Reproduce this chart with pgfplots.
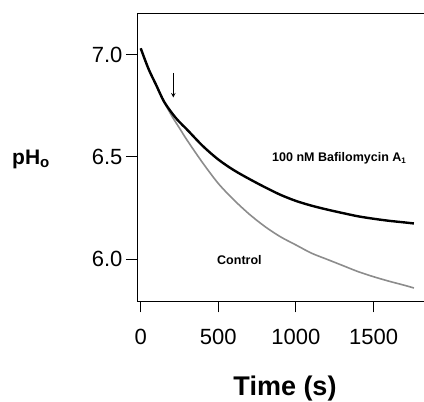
\documentclass[border=0pt]{standalone}
\usepackage{pgfplots}
\pgfplotsset{compat=1.18}
\usepackage{fontspec}
\setmainfont{Liberation Sans}

\begin{document}
\begin{tikzpicture}
\begin{axis}[
  scale only axis, width=287pt, height=288pt,
  xmin=-24, xmax=1825, ymin=5.795, ymax=7.201,
  axis x line*=bottom, axis y line*=left,
  axis line style={line width=1pt},
  xtick={0,500,1000,1500}, ytick={6,6.5,7},
  tick align=outside, major tick length=11pt,
  tick style={black, line width=1pt},
  /pgf/number format/assume math mode=true,
  /pgf/number format/set thousands separator={},
  yticklabel style={/pgf/number format/.cd, fixed, fixed zerofill, precision=1},
  ticklabel style={font=\fontsize{22}{22}\selectfont},
  xticklabel style={yshift=-13pt},
  clip=false,
]
% control trace
\addplot[color=black!45, line width=1.6pt, smooth, tension=0.5] coordinates {
 (0,7.03) (50,6.93) (100,6.85) (150,6.77) (200,6.70) (250,6.64) (300,6.58)
 (400,6.47) (500,6.37) (600,6.29) (700,6.22) (800,6.16) (900,6.11)
 (1000,6.07) (1100,6.03) (1200,6.00) (1300,5.97) (1400,5.94) (1500,5.915)
 (1600,5.893) (1700,5.873) (1760,5.86)};
% bafilomycin trace
\addplot[color=black, line width=2.4pt, smooth, tension=0.5] coordinates {
 (0,7.03) (50,6.93) (100,6.85) (150,6.77) (210,6.705) (250,6.67) (300,6.632)
 (400,6.553) (500,6.487) (600,6.435) (700,6.392) (800,6.352) (900,6.315)
 (1000,6.285) (1100,6.262) (1200,6.243) (1300,6.226) (1400,6.21)
 (1500,6.198) (1600,6.188) (1700,6.18) (1760,6.175)};
\draw[-stealth, line width=1pt] (axis cs:210,6.91) -- (axis cs:210,6.79);
\coordinate (bl) at (rel axis cs:0,0);
\coordinate (tr) at (rel axis cs:1,1);
\end{axis}
\draw[line width=1pt] (bl |- tr) -- (tr);
\node[anchor=base west, inner sep=0, font=\bfseries\fontsize{21}{21}\selectfont]
  at ([xshift=-125pt,yshift=136.5pt]bl) {pH\raisebox{-3pt}{\fontsize{15}{15}\selectfont o}};
\node[anchor=base, inner sep=0, font=\bfseries\fontsize{27}{27}\selectfont]
  at ([xshift=148pt,yshift=-94.5pt]bl) {Time (s)};
\node[anchor=base west, inner sep=0, font=\bfseries\fontsize{12.5}{12.5}\selectfont]
  at ([xshift=135pt,yshift=139.8pt]bl) {100 nM Bafilomycin A\raisebox{-2pt}{\fontsize{8}{8}\selectfont 1}};
\node[anchor=base west, inner sep=0, font=\bfseries\fontsize{12.5}{12.5}\selectfont]
  at ([xshift=80pt,yshift=36.5pt]bl) {Control};
\pgfresetboundingbox
\path[use as bounding box] ([xshift=-137pt,yshift=-100.5pt]bl) rectangle ([yshift=13.3pt]tr);
\end{tikzpicture}
\end{document}
